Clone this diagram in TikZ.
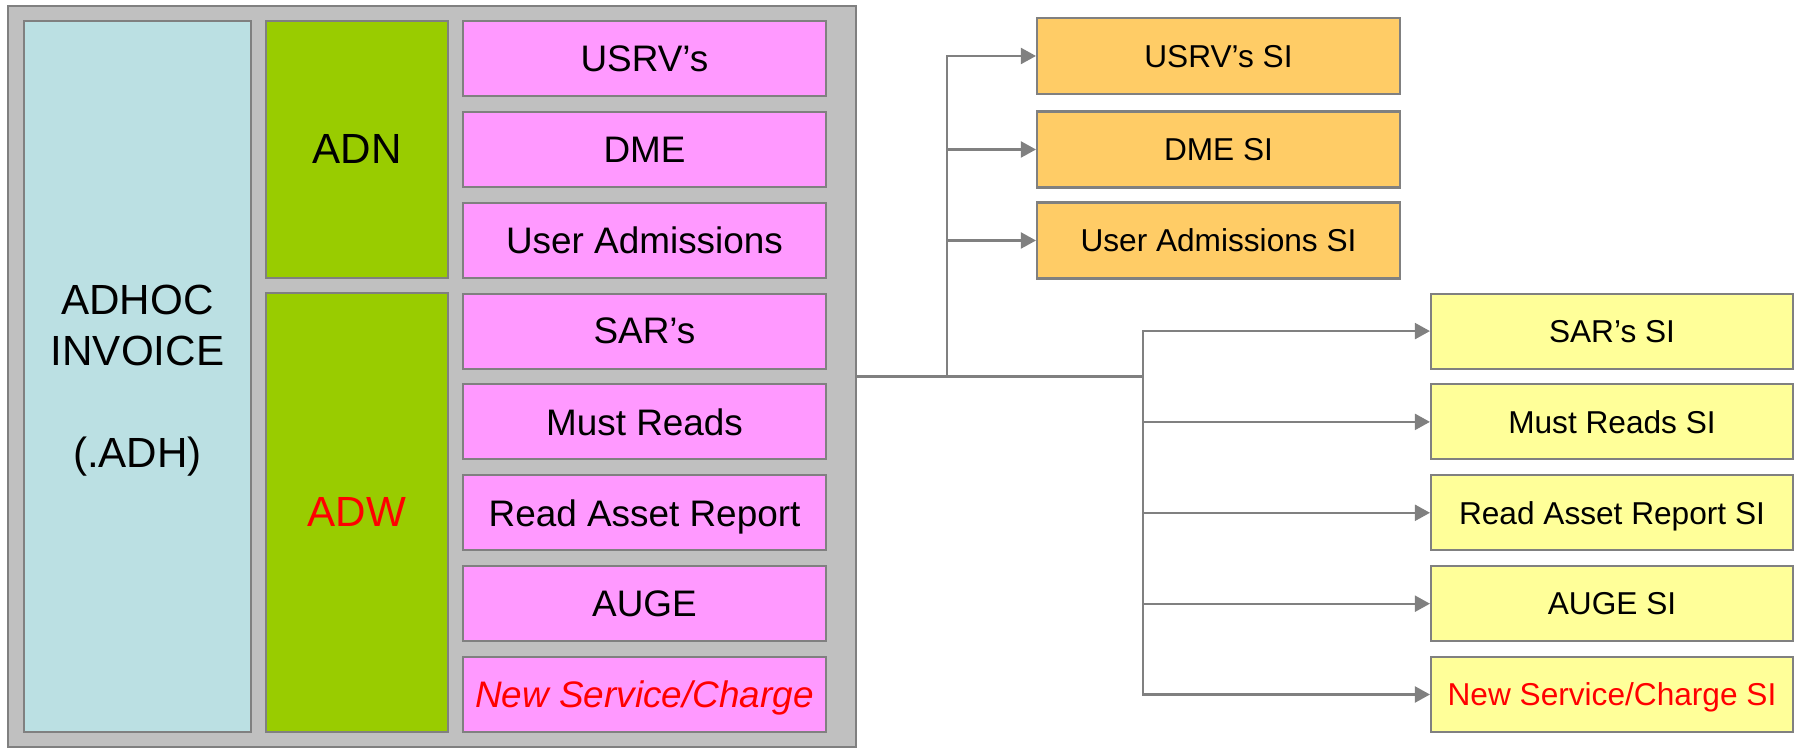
\documentclass[tikz,border=0pt]{standalone}
\usepackage{fontspec}
\setmainfont{Liberation Sans}
\usetikzlibrary{arrows.meta}

\definecolor{framegray}{HTML}{C0C0C0}
\definecolor{linegray}{HTML}{808080}
\definecolor{invblue}{HTML}{BBE0E3}
\definecolor{grpgreen}{HTML}{99CC00}
\definecolor{svcpink}{HTML}{FF99FF}
\definecolor{siorange}{HTML}{FFCC66}
\definecolor{siyellow}{HTML}{FFFF99}

\begin{document}
\begin{tikzpicture}[
    box/.style={shape=rectangle, draw=linegray, line width=0.6pt, inner sep=0pt, text depth=0pt},
    bigtext/.style={font=\fontsize{12}{14.5}\selectfont},
    svc/.style={box, fill=svcpink, minimum width=3.63cm, minimum height=0.75cm, font=\fontsize{10.5}{12.5}\selectfont},
    sio/.style={box, fill=siorange, minimum width=3.63cm, minimum height=0.76cm, font=\fontsize{9}{11}\selectfont},
    siy/.style={box, fill=siyellow, minimum width=3.62cm, minimum height=0.75cm, font=\fontsize{9}{11}\selectfont},
    conn/.style={draw=linegray, line width=0.6pt},
    >={Triangle[length=0.15cm,width=0.16cm]}
]
\useasboundingbox (0,0) rectangle (17.95,7.48);

%draw grey frame with invoice and group boxes
\node [box, fill=framegray, minimum width=8.48cm, minimum height=7.41cm] at (4.32,3.715) (outer) {};
\node [box, fill=invblue, minimum width=2.27cm, minimum height=7.11cm, bigtext, align=center] at (1.375,3.715) (adh) {ADHOC\\INVOICE\\[14.5pt](.ADH)};
\node [box, fill=grpgreen, minimum width=1.82cm, minimum height=2.57cm, bigtext] at (3.57,5.985) (adn) {ADN};
\node [box, fill=grpgreen, minimum width=1.82cm, minimum height=4.39cm, bigtext, text=red] at (3.57,2.355) (adw) {ADW};

%draw service boxes
\node [svc] at (6.445,6.895) (usrv) {USRV’s};
\node [svc] at (6.445,5.986) (dme) {DME};
\node [svc] at (6.445,5.078) (useradm) {User Admissions};
\node [svc] at (6.445,4.169) (sar) {SAR’s};
\node [svc] at (6.445,3.261) (must) {Must Reads};
\node [svc] at (6.445,2.352) (asset) {Read Asset Report};
\node [svc] at (6.445,1.443) (auge) {AUGE};
\node [svc, text=red, font=\fontsize{10.5}{12.5}\selectfont\itshape] at (6.445,0.535) (newsvc) {New Service/Charge};

%draw SI boxes for ADN
\node [sio] at (12.185,6.92) (usrvsi) {USRV’s SI};
\node [sio] at (12.185,5.985) (dmesi) {DME SI};
\node [sio] at (12.185,5.075) (useradmsi) {User Admissions SI};

%draw SI boxes for ADW
\node [siy] at (16.12,4.169) (sarsi) {SAR’s SI};
\node [siy] at (16.12,3.261) (mustsi) {Must Reads SI};
\node [siy] at (16.12,2.352) (assetsi) {Read Asset Report SI};
\node [siy] at (16.12,1.443) (augesi) {AUGE SI};
\node [siy, text=red] at (16.12,0.535) (newsvcsi) {New Service/Charge SI};

%branch points on the line out of the frame
\coordinate (jl) at (9.47,3.715);
\coordinate (jr) at (11.43,3.715);
\draw [conn] (outer.east) -- (jr);

%lines from frame to SI boxes
\draw [conn,->] (jl) |- (usrvsi);
\draw [conn,->] (jl) |- (dmesi);
\draw [conn,->] (jl) |- (useradmsi);

\draw [conn,->] (jr) |- (sarsi);
\draw [conn,->] (jr) |- (mustsi);
\draw [conn,->] (jr) |- (assetsi);
\draw [conn,->] (jr) |- (augesi);
\draw [conn,->] (jr) |- (newsvcsi);
\end{tikzpicture}
\end{document}
